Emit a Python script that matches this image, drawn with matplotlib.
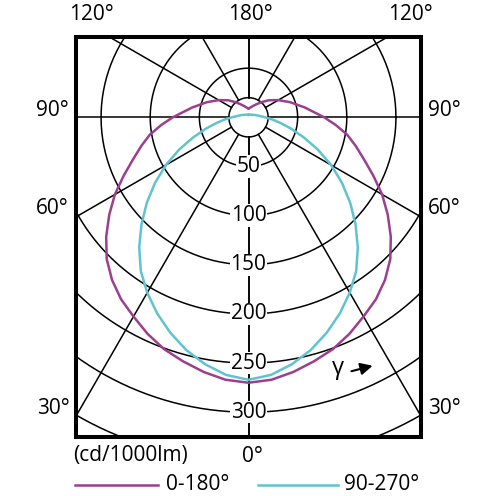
import numpy as np
import matplotlib.pyplot as plt
from matplotlib.lines import Line2D

plt.rcParams['font.family'] = ['Open Sans', 'DejaVu Sans']

# Lichtstärkeverteilung (cd/1000lm), gamma in Grad
gamma_c0 = [0, 5, 10, 15, 20, 25, 30, 35, 40, 45, 50, 55, 60, 65, 70, 75, 80, 85, 90,
            100, 110, 120, 130, 140, 150, 160, 170, 180]
cd_c0 = [270, 268, 263, 257, 251, 243, 234, 226, 216, 204, 189, 173, 157, 140, 125, 113, 102, 89, 77,
         58, 45, 35, 27, 20, 15, 12, 10, 9]

gamma_c90 = [0, 5, 10, 15, 20, 25, 30, 35, 40, 45, 50, 55, 60, 65, 70, 75, 80, 85, 90,
             100, 110, 120, 140, 160, 180]
cd_c90 = [267, 263, 255, 245, 233, 220, 206, 191, 173, 154, 135, 116, 97, 78, 60, 45, 33, 24, 17,
          10, 7, 5, 3.5, 3, 2.5]

ring_labels = [50, 100, 150, 200, 250, 300]
grid_radii = [20, 50, 100, 150, 200, 250, 300, 350]
spoke_angles = [0, 30, 60, 90, 120, 150, 180]

color_c0 = '#9c3f8e'
color_c90 = '#5fc4cf'

W = 496
fs = 15


def fpos(x, y):
    # pixel -> figure fraction
    return x / W, 1 - y / W


fig = plt.figure(figsize=(4.96, 4.96), dpi=100)
ax = fig.add_axes([76 / W, (W - 437) / W, 345 / W, 400 / W])
ax.set_xlim(-175.5, 175.5)
ax.set_ylim(-325.2, 81.7)
ax.set_xticks([])
ax.set_yticks([])
for sp in ax.spines.values():
    sp.set_linewidth(2.9)
    sp.set_color('black')

# Gitter: Kreise
t = np.linspace(0, 2 * np.pi, 400)
for r in grid_radii:
    ax.plot(r * np.cos(t), r * np.sin(t), color='black', lw=1.1, zorder=1)

# Gitter: Strahlen
for a in spoke_angles:
    g = np.radians(a)
    for side in (-1, 1):
        ax.plot([side * 20 * np.sin(g), side * 500 * np.sin(g)],
                [-20 * np.cos(g), -500 * np.cos(g)], color='black', lw=1.1, zorder=1)


def curve(gam, cd):
    g = np.radians(np.array(gam, dtype=float))
    r = np.array(cd, dtype=float)
    x = np.concatenate([-(r * np.sin(g))[::-1], (r * np.sin(g))[1:]])
    y = np.concatenate([(-r * np.cos(g))[::-1], (-r * np.cos(g))[1:]])
    return x, y


x0, y0 = curve(gamma_c0, cd_c0)
x9, y9 = curve(gamma_c90, cd_c90)
ax.plot(x9, y9, color=color_c90, lw=1.8, zorder=3, solid_joinstyle='round')
ax.plot(x0, y0, color=color_c0, lw=1.8, zorder=3, solid_joinstyle='round')

# Ringbeschriftung
for r in ring_labels:
    ax.text(0, -r, str(r), ha='center', va='center', fontsize=fs, zorder=4,
            bbox=dict(facecolor='white', edgecolor='none', pad=0.4))

# gamma Pfeil
ax.text(91, -255, 'γ', ha='center', va='center', fontsize=17, zorder=4,
        bbox=dict(facecolor='white', edgecolor='none', pad=0.8))
ax.annotate('', xy=(129, -252), xytext=(102, -259),
            arrowprops=dict(arrowstyle='-|>', color='black', lw=1.5, mutation_scale=18),
            zorder=5)

# Winkelbeschriftung
for txt, x, y in [('120°', 91, 15), ('180°', 250, 15), ('120°', 410, 15),
                  ('90°', 52, 111), ('90°', 444, 111),
                  ('60°', 52, 208), ('60°', 444, 208),
                  ('30°', 53, 408), ('30°', 444, 408),
                  ('0°', 252, 456)]:
    fig.text(*fpos(x, y), txt, ha='center', va='center', fontsize=fs)

fig.text(*fpos(73, 456), '(cd/1000lm)', ha='left', va='center', fontsize=fs)

# Legende
fig.add_artist(Line2D([75 / W, 158 / W], [1 - 485 / W] * 2, color=color_c0, lw=1.8))
fig.text(*fpos(166, 484), '0-180°', ha='left', va='center', fontsize=fs)
fig.add_artist(Line2D([258 / W, 338 / W], [1 - 485 / W] * 2, color=color_c90, lw=1.8))
fig.text(*fpos(344, 484), '90-270°', ha='left', va='center', fontsize=fs)

fig.savefig('out.png', dpi=100)
